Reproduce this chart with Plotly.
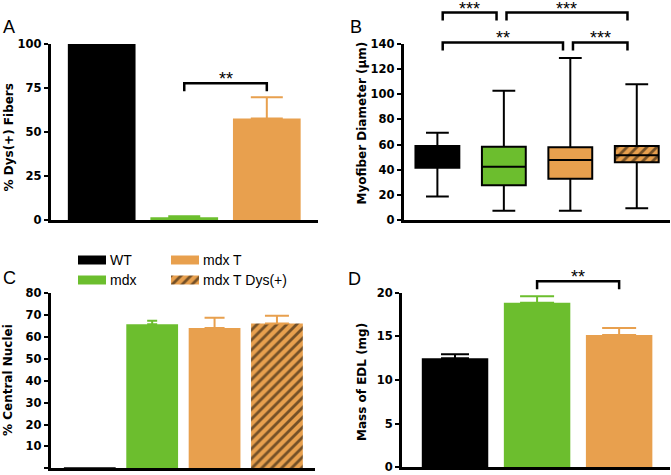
import plotly.graph_objects as go

W, H = 671, 475

BLACK = "#000000"
GREEN = "#6cbe2e"
ORANGE = "#e8a04e"

# A: % Dys(+) fibers
groups_a = ["WT", "mdx", "mdx T"]
dys_mean = [100, 1.5, 57.6]
dys_sem = [0, 0.6, 12.1]

# B: myofiber diameter (um), box stats
groups_b = ["WT", "mdx", "mdx T", "mdx T Dys(+)"]
diam_min = [18.6, 7.4, 7.4, 9.3]
diam_q1 = [41.6, 27.6, 32.9, 45.9]
diam_med = [50.0, 42.4, 47.7, 51.5]
diam_q3 = [58.9, 58.3, 57.8, 58.9]
diam_max = [69.5, 102.9, 128.9, 108.0]

# C: % central nuclei
groups_c = ["WT", "mdx", "mdx T", "mdx T Dys(+)"]
cn_mean = [0.4, 65.8, 64.1, 66.2]
cn_sem = [0, 1.6, 4.7, 3.5]

# D: mass of EDL (mg)
groups_d = ["WT", "mdx", "mdx T"]
edl_mean = [12.5, 18.85, 15.15]
edl_sem = [0.45, 0.75, 0.8]

# significance brackets: (from, to, level, label)
sig_a = [(1, 2, 77.7, "**")]
sig_b = [(0.08, 0.89, 165, "***"), (1.04, 2.86, 165, "***"),
         (0.08, 1.89, 141.2, "**"), (2.04, 2.86, 141.2, "***")]
sig_d = [(1, 2, 21.3, "**")]

colors_a = [BLACK, GREEN, ORANGE]
colors_b = [BLACK, GREEN, ORANGE, ORANGE]
colors_c = [BLACK, GREEN, ORANGE, ORANGE]
hatch_c = [False, False, False, True]
colors_d = [BLACK, GREEN, ORANGE]
cap_a = [0, 16, 16]
cap_c = [0, 5, 10, 12]
cap_d = [14, 17, 17]

TICKFONT = dict(family="DejaVu Sans", size=11.5, color="black", weight="bold")
TITLEFONT = dict(family="DejaVu Sans", size=12, color="black", weight="bold")
STARFONT = dict(family="Liberation Sans", size=18, color="black")
LETTERFONT = dict(family="Liberation Sans", size=18, color="black")
PATTERN = dict(shape="/", fgcolor="black", size=7, solidity=0.4)


def dom_x(l, r):
    return [l / W, r / W]


def dom_y(top, bottom):
    return [1 - bottom / H, 1 - top / H]


# panel geometry in pixels: (left, right, top, bottom)
panels = {
    "": (50.5, 318, 44, 220),
    "2": (403.5, 670, 44, 220),
    "3": (50.5, 315, 293.3, 468.3),
    "4": (401.7, 670, 292.7, 467.3),
}
yranges = {"": [0, 100], "2": [0, 140], "3": [0, 80], "4": [0, 20]}
xranges = {"": [-0.62, 2.62], "2": [-0.51, 3.5], "3": [-0.63, 3.61], "4": [-0.65, 2.62]}
dticks = {"": 25, "2": 20, "3": 10, "4": 5}

fig = go.Figure()


def add_bars(k, groups, means, sems, colors, caps, width, hatch=None):
    for i, g in enumerate(groups):
        marker = dict(color=colors[i], line=dict(width=0))
        if hatch and hatch[i]:
            marker["pattern"] = PATTERN
        fig.add_trace(go.Bar(
            x=[i], y=[means[i]], name=g, width=width, marker=marker,
            error_y=dict(type="data", array=[sems[i]], arrayminus=[0], symmetric=False,
                         color=colors[i], thickness=2, width=caps[i], visible=sems[i] > 0),
            xaxis="x" + k, yaxis="y" + k,
        ))


add_bars("", groups_a, dys_mean, dys_sem, colors_a, cap_a, 0.82)
add_bars("3", groups_c, cn_mean, cn_sem, colors_c, cap_c, 0.83, hatch_c)
add_bars("4", groups_d, edl_mean, edl_sem, colors_d, cap_d, 0.81)

# B: hatched box body drawn as a patterned bar under the box outline
i_h = 3
fig.add_trace(go.Bar(
    x=[i_h], base=[diam_q1[i_h]], y=[diam_q3[i_h] - diam_q1[i_h]], width=0.66,
    marker=dict(color=ORANGE, pattern=PATTERN, line=dict(width=0)),
    xaxis="x2", yaxis="y2",
))
for i, g in enumerate(groups_b):
    fig.add_trace(go.Box(
        x=[i], q1=[diam_q1[i]], median=[diam_med[i]], q3=[diam_q3[i]],
        lowerfence=[diam_min[i]], upperfence=[diam_max[i]], name=g,
        fillcolor="rgba(0,0,0,0)" if i == i_h else colors_b[i],
        line=dict(color="black", width=2), width=0.66, whiskerwidth=0.52,
        boxpoints=False, xaxis="x2", yaxis="y2",
    ))

layout = dict(
    width=W, height=H, margin=dict(l=0, r=0, t=0, b=0, autoexpand=False),
    paper_bgcolor="white", plot_bgcolor="white",
    showlegend=False, barmode="overlay",
)
for k, (l, r, t, b) in panels.items():
    layout["xaxis" + k] = dict(
        domain=dom_x(l, r), range=xranges[k], showline=True, linecolor="black",
        linewidth=2.5, showticklabels=False, ticks="", showgrid=False,
        zeroline=False, fixedrange=True, anchor="y" + k,
    )
    layout["yaxis" + k] = dict(
        domain=dom_y(t, b), range=yranges[k], dtick=dticks[k], tick0=0,
        showline=True, linecolor="black", linewidth=2.5, ticks="outside",
        ticklen=4, tickwidth=2, tickcolor="black", tickfont=TICKFONT,
        showgrid=False, zeroline=False, fixedrange=True, anchor="x" + k,
    )

# legend area (hidden axes) for panel C
layout["xaxis5"] = dict(domain=dom_x(78, 300), range=[0, 222], visible=False,
                        fixedrange=True, anchor="y5")
layout["yaxis5"] = dict(domain=dom_y(250, 290), range=[-0.5, 1.5], visible=False,
                        fixedrange=True, anchor="x5")
fig.update_layout(**layout)

legend_slots = [(0, 1), (0, 0), (93, 1), (93, 0)]
annotations = []
for i, g in enumerate(groups_c):
    cx, row = legend_slots[i]
    marker = dict(color=colors_c[i], line=dict(width=0))
    if hatch_c[i]:
        marker["pattern"] = PATTERN
    fig.add_trace(go.Bar(
        y=[row], x=[28], base=[cx], orientation="h", width=0.45, marker=marker,
        xaxis="x5", yaxis="y5",
    ))
    annotations.append(dict(
        x=cx + 30, y=row, xref="x5", yref="y5", text=g, showarrow=False,
        xanchor="left", yanchor="middle",
        font=dict(family="Liberation Sans", size=14, color="black"),
    ))

# significance brackets
shapes = []
for k, sigs in (("", sig_a), ("2", sig_b), ("4", sig_d)):
    l, r, t, b = panels[k]
    ymax = yranges[k][1]
    drop = 8 / (b - t)
    for x0, x1, lev, lab in sigs:
        y = lev / ymax
        shapes.append(dict(
            type="path", xref="x" + k, yref="y" + k + " domain",
            path=f"M {x0},{y - drop} L {x0},{y} L {x1},{y} L {x1},{y - drop}",
            line=dict(color="black", width=2.5),
        ))
        annotations.append(dict(
            x=(x0 + x1) / 2, y=y, xref="x" + k, yref="y" + k + " domain",
            text=lab, showarrow=False, yanchor="middle", yshift=4,
            font=STARFONT,
        ))

# axis titles
titles = [
    ("% Dys(+) Fibers", 8.5, 138),
    ("Myofiber Diameter (\u03bcm)", 361.5, 123),
    ("% Central Nuclei", 8, 380),
    ("Mass of EDL (mg)", 362, 382),
]
for txt, px, py in titles:
    annotations.append(dict(
        x=px / W, y=1 - py / H, xref="paper", yref="paper", text=txt,
        textangle=-90, showarrow=False, xanchor="center", yanchor="middle",
        font=TITLEFONT,
    ))

# panel letters
letters = [("A", 9, 27), ("B", 356, 27.5), ("C", 9, 278), ("D", 354, 279)]
for txt, px, py in letters:
    annotations.append(dict(
        x=px / W, y=1 - py / H, xref="paper", yref="paper", text=txt,
        showarrow=False, xanchor="center", yanchor="middle", font=LETTERFONT,
    ))

fig.update_layout(shapes=shapes, annotations=annotations)
fig.write_html("out.html", config={"displayModeBar": False},
               post_script="document.body.style.margin = '0';")
